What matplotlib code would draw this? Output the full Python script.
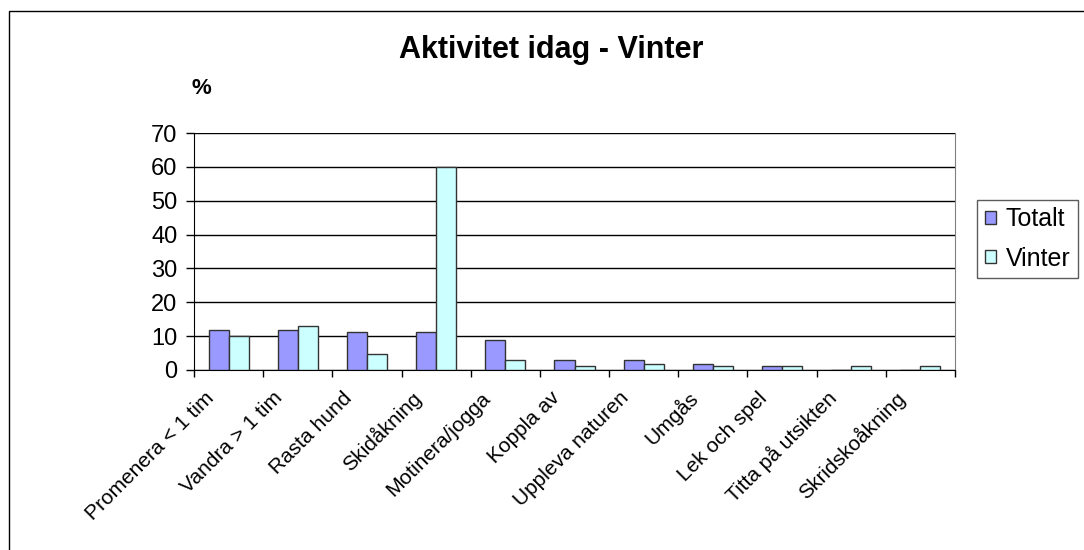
import matplotlib.pyplot as plt
import numpy as np
from matplotlib.patches import Rectangle

plt.rcParams['font.family'] = ['Liberation Sans', 'DejaVu Sans']

categories = ['Promenera < 1 tim', 'Vandra > 1 tim', 'Rasta hund', 'Skidåkning',
              'Motinera/jogga', 'Koppla av', 'Uppleva naturen', 'Umgås',
              'Lek och spel', 'Titta på utsikten', 'Skridskoåkning']
totalt = [11.8, 11.8, 11.2, 11.2, 8.9, 3.0, 3.0, 1.8, 1.3, 0, 0]
vinter = [10.0, 12.9, 4.6, 60.0, 2.9, 1.3, 1.9, 1.3, 1.3, 1.3, 1.3]
y_ticks = [0, 10, 20, 30, 40, 50, 60, 70]

fig = plt.figure(figsize=(10.84, 5.5), dpi=100)
ax = fig.add_axes([194 / 1084, 1 - 370 / 550, (955 - 194) / 1084, (370 - 133) / 550])

x = np.arange(len(categories)) + 0.5
w = 0.29
ax.bar(x - w / 2, totalt, width=w, color='#9999FF', edgecolor='#333333', linewidth=1, label='Totalt', zorder=3)
ax.bar(x + w / 2, vinter, width=w, color='#CCFFFF', edgecolor='#333333', linewidth=1, label='Vinter', zorder=3)

ax.set_xlim(0, len(categories))
ax.set_ylim(0, 70)
ax.set_yticks(y_ticks)
ax.yaxis.grid(True, color='black', linewidth=1, zorder=0)
ax.set_xticks(np.arange(len(categories) + 1))
ax.set_xticklabels([])
# labels sit a little left of the category centre, as in the original
ax.set_xticks(x - 0.26, minor=True)
ax.set_xticklabels(categories, minor=True, rotation=45, ha='right', va='center',
                   rotation_mode='anchor', fontsize=15)
ax.tick_params(axis='x', which='minor', length=0, pad=18)
ax.tick_params(axis='x', which='major', length=5, direction='out', width=1)
ax.tick_params(axis='y', length=6, width=1, labelsize=17, pad=6)

ax.spines['top'].set_visible(False)
ax.spines['right'].set_color('#808080')
ax.spines['left'].set_color('black')
ax.spines['bottom'].set_color('black')

fig.text(551 / 1084, 1 - 50 / 550, 'Aktivitet idag - Vinter', ha='center', va='center',
         fontsize=22, fontweight='bold')
fig.text(201 / 1084, 1 - 88 / 550, '%', ha='center', va='center', fontsize=16, fontweight='bold')

leg = fig.legend(loc='upper left', bbox_to_anchor=(977 / 1084, 1 - 200 / 550), fontsize=18,
                 frameon=True, fancybox=False, edgecolor='#333333', handlelength=0.45,
                 handleheight=0.45, handletextpad=0.4, labelspacing=0.6, borderpad=0.3,
                 borderaxespad=0)
leg.get_frame().set_linewidth(1)

fig.patches.append(Rectangle((9 / 1084, -0.1), 1.1, 1.1 - 11 / 550, transform=fig.transFigure,
                             fill=False, edgecolor='black', linewidth=1))

fig.savefig('out.png', dpi=100)
